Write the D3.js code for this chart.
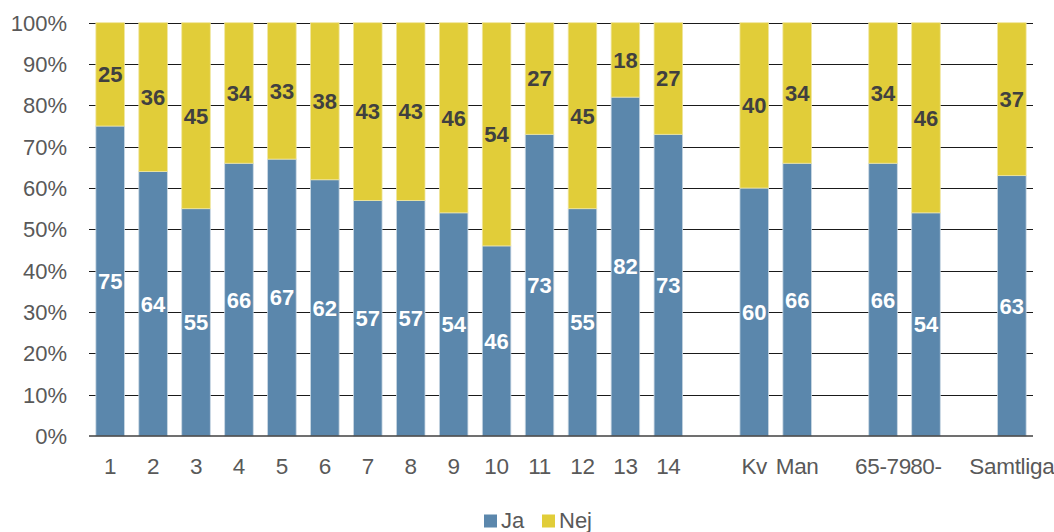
<!DOCTYPE html>
<html>
<head>
<meta charset="utf-8">
<script src="https://cdn.jsdelivr.net/npm/d3@7"></script>
<style>
    body { margin: 0; background: #fff; }
    svg { display: block; font-family: "Liberation Sans", Arial, sans-serif; }
</style>
</head>
<body>
<svg id="chart" width="1054" height="532"></svg>
<script>
// categories, null = empty slot between groups
var categories = ["1", "2", "3", "4", "5", "6", "7", "8", "9", "10", "11", "12", "13", "14",
    null, "Kv", "Man", null, "65-79", "80-", null, "Samtliga"];
var jaValues = [75, 64, 55, 66, 67, 62, 57, 57, 54, 46, 73, 55, 82, 73,
    null, 60, 66, null, 66, 54, null, 63];
var nejValues = [25, 36, 45, 34, 33, 38, 43, 43, 46, 54, 27, 45, 18, 27,
    null, 40, 34, null, 34, 46, null, 37];
var yTicks = [0, 10, 20, 30, 40, 50, 60, 70, 80, 90, 100];
var seriesNames = ["Ja", "Nej"];
var seriesColors = ["#5b87ac", "#e1cd39"];

var svg = d3.select("#chart");
var margin = {top: 22.7, left: 89, right: 21, bottom: 96};
var width = 1054, height = 532;

var x = d3.scaleBand()
    .domain(d3.range(categories.length))
    .range([margin.left, width - margin.right])
    .paddingInner(0.335)
    .paddingOuter(0.16);

var y = d3.scaleLinear()
    .domain([0, 100])
    .range([height - margin.bottom, margin.top]);

// gridlines
svg.append("g")
    .selectAll("line")
    .data(yTicks.slice(1))
    .join("line")
    .attr("x1", margin.left)
    .attr("x2", width - margin.right)
    .attr("y1", function(d) { return Math.round(y(d)) + 0.5; })
    .attr("y2", function(d) { return Math.round(y(d)) + 0.5; })
    .attr("stroke", "#1a1a1a")
    .attr("stroke-width", 1);

// y axis labels
svg.append("g")
    .selectAll("text")
    .data(yTicks)
    .join("text")
    .attr("x", 67)
    .attr("y", function(d) { return y(d); })
    .attr("dy", "0.36em")
    .attr("text-anchor", "end")
    .attr("font-size", 22)
    .attr("fill", "#595959")
    .text(function(d) { return d + "%"; });

var rows = categories.map(function(c, i) {
    return {i: i, cat: c, ja: jaValues[i], nej: nejValues[i]};
}).filter(function(d) { return d.cat !== null; });

var bars = svg.append("g");

// Ja segment
bars.selectAll("rect.ja")
    .data(rows)
    .join("rect")
    .attr("class", "ja")
    .attr("x", function(d) { return x(d.i); })
    .attr("width", x.bandwidth())
    .attr("y", function(d) { return y(d.ja); })
    .attr("height", function(d) { return y(0) - y(d.ja); })
    .attr("fill", seriesColors[0])
    .attr("stroke", "#c9d7e3")
    .attr("stroke-width", 0.8);

// Nej segment
bars.selectAll("rect.nej")
    .data(rows)
    .join("rect")
    .attr("class", "nej")
    .attr("x", function(d) { return x(d.i); })
    .attr("width", x.bandwidth())
    .attr("y", function(d) { return y(d.ja + d.nej); })
    .attr("height", function(d) { return y(d.ja) - y(d.ja + d.nej); })
    .attr("fill", seriesColors[1])
    .attr("stroke", "#f0e6a0")
    .attr("stroke-width", 0.8);

// labels
var labels = svg.append("g")
    .attr("font-size", 22)
    .attr("font-weight", "bold")
    .attr("text-anchor", "middle");

labels.selectAll("text.ja")
    .data(rows)
    .join("text")
    .attr("x", function(d) { return x(d.i) + x.bandwidth() / 2; })
    .attr("y", function(d) { return y(d.ja / 2); })
    .attr("dy", "0.36em")
    .attr("fill", "#fff")
    .text(function(d) { return d.ja; });

labels.selectAll("text.nej")
    .data(rows)
    .join("text")
    .attr("x", function(d) { return x(d.i) + x.bandwidth() / 2; })
    .attr("y", function(d) { return y(d.ja + d.nej / 2); })
    .attr("dy", "0.36em")
    .attr("fill", "#404040")
    .text(function(d) { return d.nej; });

// baseline
svg.append("line")
    .attr("x1", margin.left)
    .attr("x2", width - margin.right)
    .attr("y1", y(0))
    .attr("y2", y(0))
    .attr("stroke", "#404040")
    .attr("stroke-width", 1.5);

// category labels
svg.append("g")
    .selectAll("text")
    .data(rows)
    .join("text")
    .attr("x", function(d) { return x(d.i) + x.bandwidth() / 2; })
    .attr("y", 473.5)
    .attr("text-anchor", "middle")
    .attr("font-size", 22.5)
    .attr("letter-spacing", -0.3)
    .attr("fill", "#595959")
    .text(function(d) { return d.cat; });

// legend
var legend = svg.append("g");
var legendX = [484, 542];
seriesNames.forEach(function(name, k) {
    legend.append("rect")
        .attr("x", legendX[k])
        .attr("y", 514.5)
        .attr("width", 13)
        .attr("height", 13)
        .attr("fill", seriesColors[k]);
    legend.append("text")
        .attr("x", legendX[k] + 17)
        .attr("y", 528)
        .attr("font-size", 22)
        .attr("fill", "#595959")
        .text(name);
});
</script>
</body>
</html>
